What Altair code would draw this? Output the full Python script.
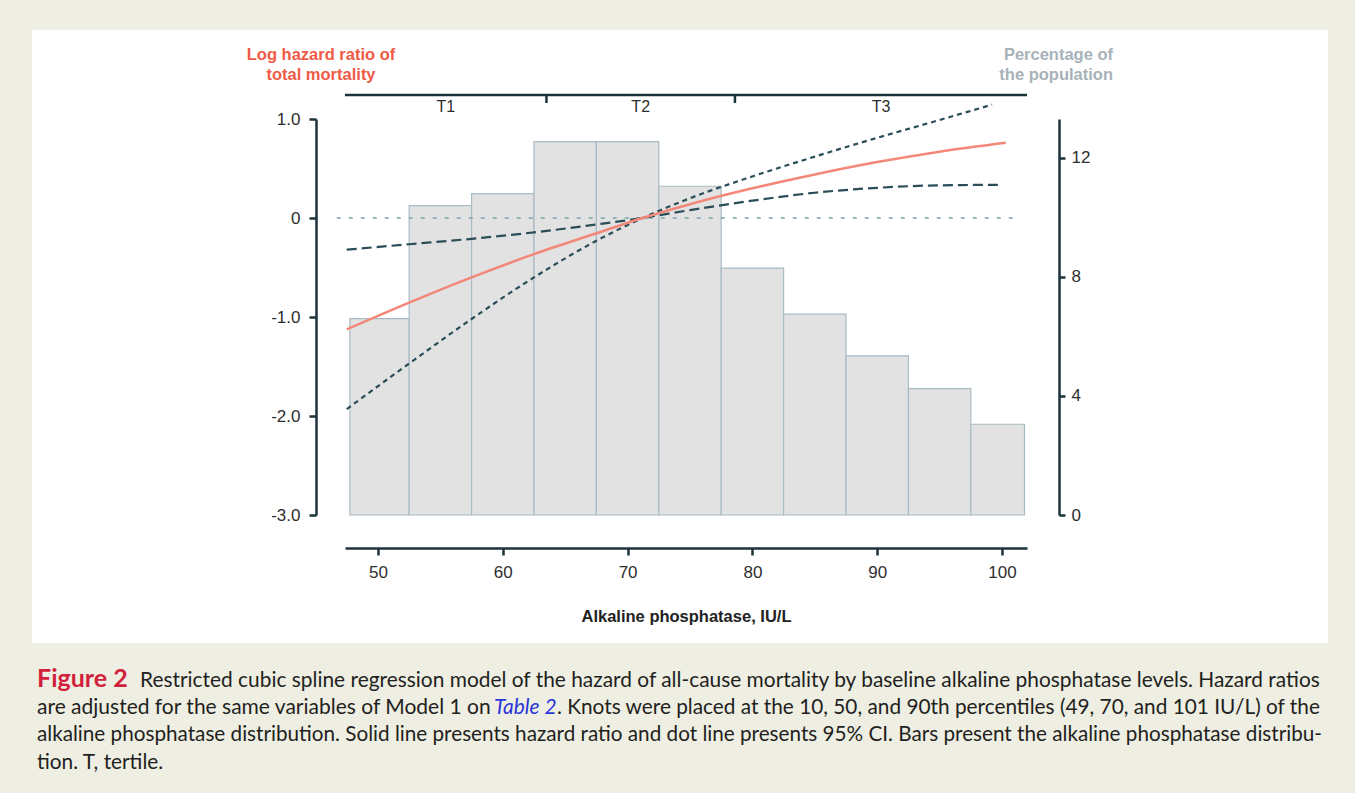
import altair as alt
import pandas as pd

FONT = "Liberation Sans"
CAP_FONT = "Lato"
AX = "#1d323b"
LBL = "#2e2e2e"

# ---------------- data ----------------
# histogram of alkaline phosphatase (percentage of the population)
bin_lo = [47.75, 52.5, 57.5, 62.5, 67.5, 72.5, 77.5, 82.5, 87.5, 92.5, 97.5]
bin_hi = [52.5, 57.5, 62.5, 67.5, 72.5, 77.5, 82.5, 87.5, 92.5, 97.5, 101.8]
pct = [6.6, 10.4, 10.8, 12.55, 12.55, 11.05, 8.3, 6.75, 5.35, 4.25, 3.05]

# restricted cubic spline: log hazard ratio
alp_hr = [47.5, 52.5, 57.5, 62.5, 67.5, 71.2, 75.0, 80.0, 85.0, 90.0, 95.0, 100.3]
log_hr = [-1.125, -0.855, -0.60, -0.365, -0.155, 0.0, 0.14, 0.30, 0.44, 0.565, 0.67, 0.76]

# 95% CI curve (long dashes)
alp_ci_a = [47.5, 52.5, 57.5, 62.5, 67.5, 71.2, 75.0, 80.0, 85.0, 90.0, 95.0, 99.7]
ci_a = [-0.32, -0.265, -0.21, -0.145, -0.065, 0.0, 0.08, 0.175, 0.255, 0.305, 0.33, 0.335]

# 95% CI curve (short dashes)
alp_ci_b = [47.5, 52.5, 57.5, 62.5, 67.5, 71.2, 75.0, 80.0, 85.0, 90.0, 95.0, 99.2]
ci_b = [-1.93, -1.47, -1.02, -0.60, -0.23, 0.0, 0.20, 0.42, 0.62, 0.81, 0.99, 1.145]

# reference line at log HR = 0
ref_x = [46.7, 100.9]
ref_y = [0.0]

# tertiles
x_domain = [47.36, 102.0]
t_cuts = [63.5, 78.6]
t_labels = ["T1", "T2", "T3"]
edges = [x_domain[0]] + t_cuts + [x_domain[1]]
t_mid = [(edges[i] + edges[i + 1]) / 2 for i in range(3)]

left_ticks = [-3, -2, -1, 0, 1]
right_ticks = [0, 4, 8, 12]
x_ticks = [50, 60, 70, 80, 90, 100]

# ---------------- frames ----------------
bars_df = pd.DataFrame({"lo": bin_lo, "hi": bin_hi, "pct": pct, "base": [0] * len(pct)})
hr_df = pd.DataFrame({"alp": alp_hr, "val": log_hr})
cia_df = pd.DataFrame({"alp": alp_ci_a, "val": ci_a})
cib_df = pd.DataFrame({"alp": alp_ci_b, "val": ci_b})
ref_df = pd.DataFrame({"x0": [ref_x[0]], "x1": [ref_x[1]], "val": ref_y})
cut_df = pd.DataFrame({"cut": t_cuts})
tl_df = pd.DataFrame({"mid": t_mid, "lab": t_labels})
one = pd.DataFrame({"a": [0]})

W, H = 682, 396

xs = alt.Scale(domain=x_domain, nice=False, zero=False)
xaxis = alt.Axis(
    orient="bottom", values=x_ticks, offset=33, tickSize=7, tickWidth=2.5,
    tickColor=AX, domainColor=AX, domainWidth=2.5, labelFont=FONT,
    labelFontSize=17, labelColor=LBL, labelPadding=9, grid=False,
    title="Alkaline phosphatase, IU/L", titleFont=FONT, titleFontSize=16.5,
    titleFontWeight="bold", titleColor="#222222", titlePadding=28, zindex=1,
)


def X(field):
    return alt.X(field, type="quantitative", scale=xs, axis=xaxis)


yl_scale = alt.Scale(domain=[-3, 1], nice=False, zero=False)
yl_axis = alt.Axis(
    orient="left", values=left_ticks,
    labelExpr="datum.value == 0 ? '0' : (datum.value < 0 ? '-' + format(-datum.value, '.1f') : format(datum.value, '.1f'))",
    offset=29, tickSize=7, tickWidth=2.5, tickColor=AX, domainColor=AX,
    domainWidth=2.5, labelFont=FONT, labelFontSize=17, labelColor=LBL,
    labelPadding=9, grid=False, title=None, zindex=1,
)
yr_scale = alt.Scale(domain=[0, 13.31], nice=False, zero=True)
yr_axis = alt.Axis(
    orient="right", values=right_ticks, offset=32, tickSize=6, tickWidth=2.5,
    tickColor=AX, domainColor=AX, domainWidth=2.5, labelFont=FONT,
    labelFontSize=17, labelColor=LBL, labelPadding=6, grid=False,
    title=None, zindex=1,
)


def YL(field):
    return alt.Y(field, type="quantitative", scale=yl_scale, axis=yl_axis)


# white panel
panel = alt.Chart(one).mark_rect(fill="white").encode(
    x=alt.value(-313), x2=alt.value(983), y=alt.value(-89), y2=alt.value(524)
)

bars = alt.Chart(bars_df).mark_rect(
    fill="#e2e2e2", stroke="#a9bcc4", strokeWidth=1.2
).encode(
    x=X("lo"), x2="hi",
    y=alt.Y("pct", type="quantitative", scale=yr_scale, axis=yr_axis),
    y2="base",
)

ref = alt.Chart(ref_df).mark_rule(
    color="#7fa2ae", strokeWidth=1.7, strokeDash=[4, 8]
).encode(x=X("x0"), x2="x1", y=YL("val"))

line_b = alt.Chart(cib_df).mark_line(
    color="#2b4d58", strokeWidth=2.2, strokeDash=[5, 4], interpolate="monotone"
).encode(x=X("alp"), y=YL("val"))

line_a = alt.Chart(cia_df).mark_line(
    color="#2b4d58", strokeWidth=2.2, strokeDash=[10, 5], interpolate="monotone"
).encode(x=X("alp"), y=YL("val"))

line_hr = alt.Chart(hr_df).mark_line(
    color="#f3887a", strokeWidth=2.6, interpolate="monotone"
).encode(x=X("alp"), y=YL("val"))

left_layer = alt.layer(ref, line_b, line_a, line_hr)

# tertile axis on top
t_line = alt.Chart(one).mark_rule(color=AX, strokeWidth=2.5).encode(
    x=alt.value(0), x2=alt.value(W), y=alt.value(-24)
)
t_ticks = alt.Chart(cut_df).mark_rule(color=AX, strokeWidth=2.5).encode(
    x=X("cut"), y=alt.value(-24), y2=alt.value(-16)
)
t_text = alt.Chart(tl_df).mark_text(
    font=FONT, fontSize=16, color=LBL, baseline="middle", align="center"
).encode(x=X("mid"), y=alt.value(-12), text="lab:N")


def label(txt, x, y, color, size=16.5, weight="bold", align="center",
          font=FONT, style="normal", baseline="middle"):
    return alt.Chart(one).mark_text(
        text=txt, font=font, fontSize=size, fontWeight=weight, color=color,
        align=align, baseline=baseline, fontStyle=style,
    ).encode(x=alt.value(x), y=alt.value(y))


RED_T = "#ef5b46"
GREY_T = "#a7b2b9"
titles = [
    label("Log hazard ratio of", -24, -64, RED_T),
    label("total mortality", -24, -44, RED_T),
    label("Percentage of", 768, -64, GREY_T, align="right"),
    label("the population", 768, -44, GREY_T, align="right"),
]

CAP = "#231f20"


def cap_text(txt, x, y, size, color=CAP, weight="normal", style="normal"):
    return label(txt, x, y, color, size=size, weight=weight, align="left",
                 font=CAP_FONT, style=style, baseline="alphabetic")


cap = [
    cap_text("Figure 2", -308, 568, 25, color="#d21f3c", weight="bold"),
    cap_text("Restricted cubic spline regression model of the hazard of all-cause mortality by baseline alkaline phosphatase levels. Hazard ratios",
             -205, 568, 20.9),
    cap_text("are adjusted for the same variables of Model 1 on", -308, 595, 21),
    cap_text("Table 2", 149, 595, 20.9, color="#2b35d8", style="italic"),
    cap_text(". Knots were placed at the 10, 50, and 90th percentiles (49, 70, and 101 IU/L) of the",
             212, 595, 20.8),
    cap_text("alkaline phosphatase distribution. Solid line presents hazard ratio and dot line presents 95% CI. Bars present the alkaline phosphatase distribu-",
             -308, 622, 20.7),
    cap_text("tion. T, tertile.", -308, 650, 20.8),
]

chart = alt.layer(
    panel, bars, left_layer, t_line, t_ticks, t_text, *titles, *cap
).resolve_scale(y="independent").properties(
    width=W, height=H,
    autosize=alt.AutoSizeParams(type="none"),
    padding={"left": 345, "top": 119, "right": 328, "bottom": 278},
    background="#eeeee3",
).configure_view(stroke=None)

chart.save("out.html", embed_options={"renderer": "svg", "actions": False})
